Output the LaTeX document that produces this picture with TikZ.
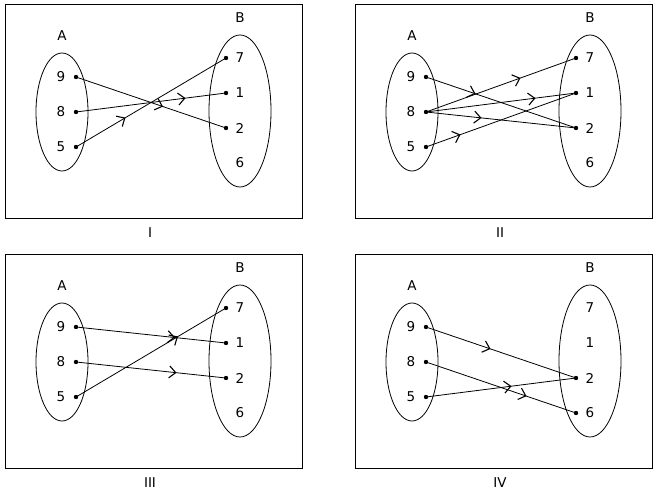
\documentclass[tikz,border=0pt]{standalone}
\usepackage{fontspec}
\setmainfont{DejaVu Sans}
\usetikzlibrary{arrows.meta,decorations.markings}
\tikzset{
  panelframe/.style={draw,line width=0.9pt},
  setoval/.style={draw,line width=0.8pt},
  numlabel/.style={font=\fontsize{13.5}{16}\selectfont,inner sep=1pt},
  mapline/.style={line width=0.8pt},
  mapto/.style={mapline,postaction={decorate},
    decoration={markings,mark=at position #1 with {\arrow[line width=1.1pt]{Straight Barb[length=6.5pt,width=12pt]}}}}
}
% one panel: frame, the two sets, their elements
\newcommand{\setspanel}[1]{%
  \draw[panelframe] (5,4) rectangle (302,218);
  \node[numlabel] (cap) at (150,233) {#1};
  \draw[setoval] (62,112) ellipse [x radius=26,y radius=59];
  \draw[setoval] (240,111) ellipse [x radius=31,y radius=76];
  \node[numlabel] (setA) at (62,36) {A};
  \node[numlabel] (setB) at (240,18) {B};
  \foreach \v/\y in {9/77,8/112,5/147}{
    \node[numlabel] (ta\v) at (61,\y) {\v};
    \coordinate (a\v) at (76,\y);
  }
  \foreach \v/\y in {7/58,1/93,2/128,6/163}{
    \node[numlabel] (tb\v) at (240,\y) {\v};
    \coordinate (b\v) at (226,\y);
  }
}
\begin{document}
\begin{tikzpicture}[x=1pt,y=-1pt]
\useasboundingbox (0,0) rectangle (657,497);

% I
\begin{scope}[name prefix=I-]
\setspanel{I}
\draw[mapto=0.58] (a9) -- (b2);
\draw[mapto=0.73] (a8) -- (b1);
\draw[mapto=0.33] (a5) -- (b7);
\foreach \p in {a9,a8,a5,b7,b1,b2} \fill (\p) circle (2.2pt);
\end{scope}

% II
\begin{scope}[shift={(350,0)},name prefix=II-]
\setspanel{II}
\draw[mapto=0.33] (a9) -- (b2);
\draw[mapto=0.63] (a8) -- (b7);
\draw[mapto=0.73] (a8) -- (b1);
\draw[mapto=0.37] (a8) -- (b2);
\draw[mapto=0.23] (a5) -- (b1);
\foreach \p in {a9,a8,a5,b7,b1,b2} \fill (\p) circle (2.2pt);
\end{scope}

% III
\begin{scope}[shift={(0,250)},name prefix=III-]
\setspanel{III}
\draw[mapto=0.66] (a9) -- (b1);
\draw[mapto=0.67] (a8) -- (b2);
\draw[mapto=0.68] (a5) -- (b7);
\foreach \p in {a9,a8,a5,b7,b1,b2} \fill (\p) circle (2.2pt);
\end{scope}

% IV
\begin{scope}[shift={(350,250)},name prefix=IV-]
\setspanel{IV}
\draw[mapto=0.43] (a9) -- (b2);
\draw[mapto=0.67] (a8) -- (b6);
\draw[mapto=0.57] (a5) -- (b2);
\foreach \p in {a9,a8,a5,b2,b6} \fill (\p) circle (2.2pt);
\end{scope}
\end{tikzpicture}
\end{document}
